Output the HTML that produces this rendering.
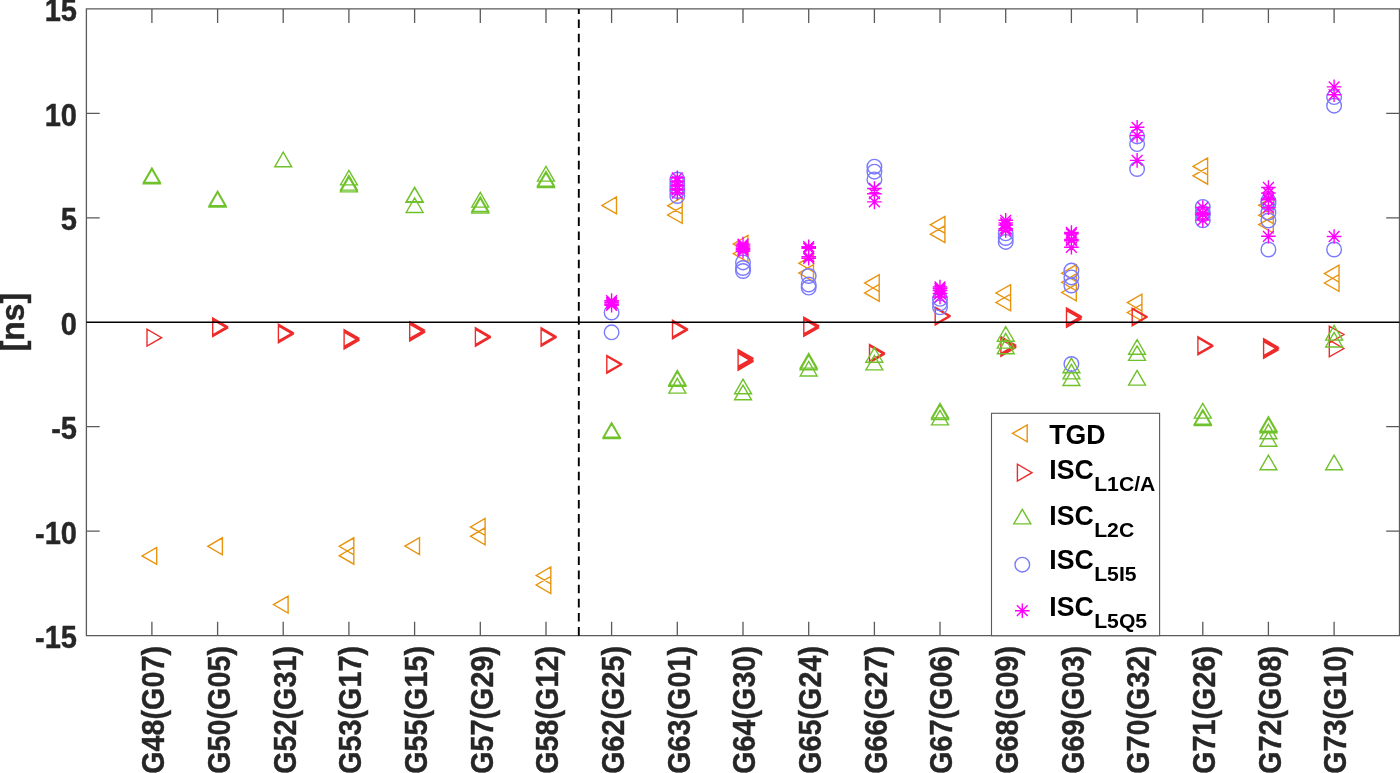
<!DOCTYPE html>
<html><head><meta charset="utf-8"><title>ISC / TGD</title>
<style>
html,body{margin:0;padding:0;background:#fff}
svg{display:block}
text{font-family:"Liberation Sans",Arial,Helvetica,sans-serif;font-weight:bold}
.t{font-size:31.1px;fill:#262626;stroke:#262626;stroke-width:0.4px}
.l{font-size:27.8px;fill:#000}
.s{font-size:20.35px;fill:#000}
</style></head>
<body>
<svg width="1400" height="773" viewBox="0 0 1400 773">
<rect width="1400" height="773" fill="#fff"/>
<g id="series">
<path d="M156.7 547.4L156.7 564.4L142.1 555.9ZM222.4 537.8L222.4 554.8L207.8 546.3ZM288.1 596.1L288.1 613.1L273.5 604.6ZM353.8 537.8L353.8 554.8L339.2 546.3ZM353.8 547.2L353.8 564.2L339.2 555.7ZM419.5 537.6L419.5 554.6L404.9 546.1ZM485.1 518.4L485.1 535.4L470.5 526.9ZM485.1 527.8L485.1 544.8L470.5 536.3ZM550.8 566.9L550.8 583.9L536.2 575.4ZM550.8 576.5L550.8 593.5L536.2 585.0ZM616.5 197.0L616.5 213.8L601.9 205.4ZM682.2 197.2L682.2 214.1L667.6 205.7ZM682.2 206.6L682.2 223.4L667.6 215.0ZM747.9 235.5L747.9 252.3L733.3 243.9ZM747.9 245.2L747.9 262.1L733.3 253.7ZM813.5 254.9L813.5 271.8L798.9 263.3ZM813.5 264.7L813.5 281.6L798.9 273.1ZM879.2 274.7L879.2 291.6L864.6 283.1ZM879.2 284.4L879.2 301.3L864.6 292.9ZM944.9 216.4L944.9 233.2L930.3 224.8ZM944.9 225.8L944.9 242.6L930.3 234.2ZM1010.6 284.6L1010.6 301.4L996.0 293.0ZM1010.6 294.1L1010.6 310.9L996.0 302.5ZM1076.3 264.8L1076.3 281.6L1061.7 273.2ZM1076.3 273.9L1076.3 290.8L1061.7 282.3ZM1076.3 284.1L1076.3 300.9L1061.7 292.5ZM1141.9 294.2L1141.9 311.1L1127.3 302.6ZM1141.9 304.1L1141.9 320.9L1127.3 312.5ZM1207.6 158.0L1207.6 174.8L1193.0 166.4ZM1207.6 167.4L1207.6 184.2L1193.0 175.8ZM1273.3 196.9L1273.3 213.8L1258.7 205.3ZM1273.3 206.8L1273.3 223.6L1258.7 215.2ZM1273.3 216.2L1273.3 233.0L1258.7 224.6ZM1339.0 265.2L1339.0 282.1L1324.4 273.6ZM1339.0 274.6L1339.0 291.4L1324.4 283.0Z" fill="none" stroke="#E8940F" stroke-width="1.4" stroke-linejoin="miter"/>
<path d="M147.0 329.2L147.0 346.1L161.6 337.7ZM212.7 317.9L212.7 334.8L227.3 326.4ZM212.7 318.9L212.7 335.8L227.3 327.3ZM212.7 319.8L212.7 336.6L227.3 328.2ZM278.4 324.1L278.4 340.9L293.0 332.5ZM278.4 324.9L278.4 341.8L293.0 333.4ZM278.4 325.9L278.4 342.8L293.0 334.3ZM344.1 329.6L344.1 346.4L358.7 338.0ZM344.1 330.9L344.1 347.8L358.7 339.3ZM344.1 332.2L344.1 349.1L358.7 340.6ZM409.7 321.6L409.7 338.4L424.3 330.0ZM409.7 322.9L409.7 339.8L424.3 331.3ZM409.7 324.2L409.7 341.1L424.3 332.6ZM475.4 327.8L475.4 344.6L490.0 336.2ZM475.4 328.6L475.4 345.4L490.0 337.0ZM475.4 329.4L475.4 346.2L490.0 337.8ZM541.1 327.8L541.1 344.6L555.7 336.2ZM541.1 328.6L541.1 345.4L555.7 337.0ZM541.1 329.4L541.1 346.2L555.7 337.8ZM606.8 355.4L606.8 372.2L621.4 363.8ZM606.8 356.4L606.8 373.2L621.4 364.8ZM672.5 320.2L672.5 337.1L687.1 328.7ZM672.5 321.1L672.5 337.9L687.1 329.5ZM672.5 321.9L672.5 338.8L687.1 330.3ZM738.1 349.6L738.1 366.4L752.7 358.0ZM738.1 350.6L738.1 367.4L752.7 359.0ZM738.1 351.6L738.1 368.4L752.7 360.0ZM738.1 352.6L738.1 369.4L752.7 361.0ZM738.1 353.4L738.1 370.2L752.7 361.8ZM803.8 317.1L803.8 333.9L818.4 325.5ZM803.8 318.2L803.8 335.1L818.4 326.7ZM803.8 319.4L803.8 336.3L818.4 327.9ZM869.5 344.4L869.5 361.2L884.1 352.8ZM869.5 345.2L869.5 362.1L884.1 353.6ZM869.5 345.9L869.5 362.8L884.1 354.4ZM935.2 307.1L935.2 323.9L949.8 315.5ZM935.2 308.2L935.2 325.1L949.8 316.7ZM1000.9 336.6L1000.9 353.4L1015.5 345.0ZM1000.9 337.9L1000.9 354.8L1015.5 346.4ZM1000.9 339.4L1000.9 356.2L1015.5 347.8ZM1066.5 307.9L1066.5 324.8L1081.1 316.3ZM1066.5 309.1L1066.5 325.9L1081.1 317.5ZM1066.5 310.6L1066.5 327.4L1081.1 319.0ZM1132.2 308.1L1132.2 324.9L1146.8 316.5ZM1132.2 308.9L1132.2 325.8L1146.8 317.3ZM1197.9 336.8L1197.9 353.6L1212.5 345.2ZM1197.9 337.9L1197.9 354.8L1212.5 346.4ZM1263.6 338.8L1263.6 355.6L1278.2 347.2ZM1263.6 340.2L1263.6 357.1L1278.2 348.6ZM1263.6 341.6L1263.6 358.4L1278.2 350.0ZM1329.3 326.1L1329.3 342.9L1343.9 334.5ZM1329.3 340.1L1329.3 356.9L1343.9 348.5Z" fill="none" stroke="#EE2A2A" stroke-width="1.4" stroke-linejoin="miter"/>
<path d="M143.4 182.5L160.3 182.5L151.9 167.9ZM143.4 183.9L160.3 183.9L151.9 169.3ZM209.1 205.7L226.0 205.7L217.6 191.1ZM209.1 207.1L226.0 207.1L217.6 192.5ZM274.8 166.8L291.7 166.8L283.2 152.2ZM340.5 184.9L357.4 184.9L348.9 170.3ZM340.5 190.1L357.4 190.1L348.9 175.5ZM340.5 191.9L357.4 191.9L348.9 177.3ZM406.2 201.7L423.1 201.7L414.6 187.1ZM406.2 202.2L423.1 202.2L414.6 187.6ZM406.2 212.5L423.1 212.5L414.6 197.9ZM471.8 207.1L488.7 207.1L480.3 192.5ZM471.8 211.5L488.7 211.5L480.3 196.9ZM471.8 213.1L488.7 213.1L480.3 198.5ZM537.5 181.1L554.4 181.1L546.0 166.5ZM537.5 186.1L554.4 186.1L546.0 171.5ZM537.5 187.5L554.4 187.5L546.0 172.9ZM603.2 437.2L620.1 437.2L611.6 422.6ZM603.2 438.5L620.1 438.5L611.6 423.9ZM668.9 385.1L685.8 385.1L677.3 370.5ZM668.9 386.3L685.8 386.3L677.3 371.7ZM668.9 393.1L685.8 393.1L677.3 378.5ZM734.6 393.8L751.5 393.8L743.0 379.2ZM734.6 399.8L751.5 399.8L743.0 385.2ZM800.2 368.1L817.1 368.1L808.7 353.5ZM800.2 369.8L817.1 369.8L808.7 355.2ZM800.2 376.0L817.1 376.0L808.7 361.4ZM865.9 362.2L882.8 362.2L874.4 347.6ZM865.9 369.9L882.8 369.9L874.4 355.3ZM931.6 417.9L948.5 417.9L940.0 403.3ZM931.6 419.5L948.5 419.5L940.0 404.9ZM931.6 424.9L948.5 424.9L940.0 410.3ZM997.3 341.2L1014.2 341.2L1005.7 326.6ZM997.3 348.1L1014.2 348.1L1005.7 333.5ZM997.3 353.8L1014.2 353.8L1005.7 339.2ZM1063.0 372.7L1079.9 372.7L1071.4 358.1ZM1063.0 378.9L1079.9 378.9L1071.4 364.3ZM1063.0 385.5L1079.9 385.5L1071.4 370.9ZM1128.6 354.2L1145.5 354.2L1137.1 339.6ZM1128.6 360.4L1145.5 360.4L1137.1 345.8ZM1128.6 385.1L1145.5 385.1L1137.1 370.5ZM1194.3 418.1L1211.2 418.1L1202.8 403.5ZM1194.3 424.2L1211.2 424.2L1202.8 409.6ZM1194.3 425.5L1211.2 425.5L1202.8 410.9ZM1260.0 431.2L1276.9 431.2L1268.4 416.6ZM1260.0 432.8L1276.9 432.8L1268.4 418.2ZM1260.0 438.8L1276.9 438.8L1268.4 424.2ZM1260.0 446.2L1276.9 446.2L1268.4 431.6ZM1260.0 469.8L1276.9 469.8L1268.4 455.2ZM1325.7 340.1L1342.6 340.1L1334.1 325.5ZM1325.7 347.0L1342.6 347.0L1334.1 332.4ZM1325.7 469.8L1342.6 469.8L1334.1 455.2Z" fill="none" stroke="#70C22C" stroke-width="1.4" stroke-linejoin="miter"/>
<g fill="none" stroke="#7A7AFF" stroke-width="1.4"><circle cx="611.6" cy="312.5" r="7.3"/><circle cx="611.6" cy="332.3" r="7.3"/><circle cx="677.3" cy="179.5" r="7.3"/><circle cx="677.3" cy="183.5" r="7.3"/><circle cx="677.3" cy="187.5" r="7.3"/><circle cx="677.3" cy="191.0" r="7.3"/><circle cx="677.3" cy="196.0" r="7.3"/><circle cx="743.0" cy="262.4" r="7.3"/><circle cx="743.0" cy="268.0" r="7.3"/><circle cx="743.0" cy="271.0" r="7.3"/><circle cx="808.7" cy="276.0" r="7.3"/><circle cx="808.7" cy="284.5" r="7.3"/><circle cx="808.7" cy="287.6" r="7.3"/><circle cx="874.4" cy="166.7" r="7.3"/><circle cx="874.4" cy="171.7" r="7.3"/><circle cx="874.4" cy="179.4" r="7.3"/><circle cx="940.0" cy="298.8" r="7.3"/><circle cx="940.0" cy="303.3" r="7.3"/><circle cx="940.0" cy="307.3" r="7.3"/><circle cx="1005.7" cy="233.3" r="7.3"/><circle cx="1005.7" cy="238.0" r="7.3"/><circle cx="1005.7" cy="241.9" r="7.3"/><circle cx="1071.4" cy="270.6" r="7.3"/><circle cx="1071.4" cy="277.4" r="7.3"/><circle cx="1071.4" cy="285.5" r="7.3"/><circle cx="1071.4" cy="364.0" r="7.3"/><circle cx="1137.1" cy="136.4" r="7.3"/><circle cx="1137.1" cy="144.1" r="7.3"/><circle cx="1137.1" cy="169.0" r="7.3"/><circle cx="1202.8" cy="206.9" r="7.3"/><circle cx="1202.8" cy="212.8" r="7.3"/><circle cx="1202.8" cy="214.5" r="7.3"/><circle cx="1202.8" cy="220.3" r="7.3"/><circle cx="1268.4" cy="200.8" r="7.3"/><circle cx="1268.4" cy="203.6" r="7.3"/><circle cx="1268.4" cy="212.7" r="7.3"/><circle cx="1268.4" cy="220.5" r="7.3"/><circle cx="1268.4" cy="249.5" r="7.3"/><circle cx="1334.1" cy="97.1" r="7.3"/><circle cx="1334.1" cy="105.7" r="7.3"/><circle cx="1334.1" cy="249.5" r="7.3"/></g>
<path d="M604.3 300.6H618.9M611.6 293.3V307.9M606.2 295.2L617.0 306.0M606.2 306.0L617.0 295.2M604.3 302.3H618.9M611.6 295.0V309.6M606.2 296.9L617.0 307.7M606.2 307.7L617.0 296.9M604.3 304.0H618.9M611.6 296.7V311.3M606.2 298.6L617.0 309.4M606.2 309.4L617.0 298.6M604.3 305.3H618.9M611.6 298.0V312.6M606.2 299.9L617.0 310.7M606.2 310.7L617.0 299.9M670.0 177.8H684.6M677.3 170.5V185.1M671.9 172.4L682.7 183.2M671.9 183.2L682.7 172.4M670.0 181.4H684.6M677.3 174.1V188.7M671.9 176.0L682.7 186.8M671.9 186.8L682.7 176.0M670.0 185.6H684.6M677.3 178.3V192.9M671.9 180.2L682.7 191.0M671.9 191.0L682.7 180.2M670.0 189.5H684.6M677.3 182.2V196.8M671.9 184.1L682.7 194.9M671.9 194.9L682.7 184.1M670.0 193.0H684.6M677.3 185.7V200.3M671.9 187.6L682.7 198.4M671.9 198.4L682.7 187.6M735.7 244.1H750.3M743.0 236.8V251.4M737.6 238.7L748.4 249.5M737.6 249.5L748.4 238.7M735.7 246.0H750.3M743.0 238.7V253.3M737.6 240.6L748.4 251.4M737.6 251.4L748.4 240.6M735.7 248.0H750.3M743.0 240.7V255.3M737.6 242.6L748.4 253.4M737.6 253.4L748.4 242.6M735.7 249.5H750.3M743.0 242.2V256.8M737.6 244.1L748.4 254.9M737.6 254.9L748.4 244.1M735.7 251.2H750.3M743.0 243.9V258.5M737.6 245.8L748.4 256.6M737.6 256.6L748.4 245.8M801.4 246.7H816.0M808.7 239.4V254.0M803.3 241.3L814.1 252.1M803.3 252.1L814.1 241.3M801.4 248.3H816.0M808.7 241.0V255.6M803.3 242.9L814.1 253.7M803.3 253.7L814.1 242.9M801.4 256.6H816.0M808.7 249.3V263.9M803.3 251.2L814.1 262.0M803.3 262.0L814.1 251.2M801.4 258.3H816.0M808.7 251.0V265.6M803.3 252.9L814.1 263.7M803.3 263.7L814.1 252.9M867.1 188.5H881.7M874.4 181.2V195.8M869.0 183.1L879.8 193.9M869.0 193.9L879.8 183.1M867.1 193.7H881.7M874.4 186.4V201.0M869.0 188.3L879.8 199.1M869.0 199.1L879.8 188.3M867.1 201.9H881.7M874.4 194.6V209.2M869.0 196.5L879.8 207.3M869.0 207.3L879.8 196.5M932.7 287.0H947.3M940.0 279.7V294.3M934.6 281.6L945.4 292.4M934.6 292.4L945.4 281.6M932.7 288.6H947.3M940.0 281.3V295.9M934.6 283.2L945.4 294.0M934.6 294.0L945.4 283.2M932.7 290.5H947.3M940.0 283.2V297.8M934.6 285.1L945.4 295.9M934.6 295.9L945.4 285.1M932.7 293.5H947.3M940.0 286.2V300.8M934.6 288.1L945.4 298.9M934.6 298.9L945.4 288.1M932.7 297.0H947.3M940.0 289.7V304.3M934.6 291.6L945.4 302.4M934.6 302.4L945.4 291.6M998.4 220.3H1013.0M1005.7 213.0V227.6M1000.3 214.9L1011.1 225.7M1000.3 225.7L1011.1 214.9M998.4 222.9H1013.0M1005.7 215.6V230.2M1000.3 217.5L1011.1 228.3M1000.3 228.3L1011.1 217.5M998.4 225.0H1013.0M1005.7 217.7V232.3M1000.3 219.6L1011.1 230.4M1000.3 230.4L1011.1 219.6M998.4 228.7H1013.0M1005.7 221.4V236.0M1000.3 223.3L1011.1 234.1M1000.3 234.1L1011.1 223.3M998.4 230.5H1013.0M1005.7 223.2V237.8M1000.3 225.1L1011.1 235.9M1000.3 235.9L1011.1 225.1M1064.1 232.5H1078.7M1071.4 225.2V239.8M1066.0 227.1L1076.8 237.9M1066.0 237.9L1076.8 227.1M1064.1 233.8H1078.7M1071.4 226.5V241.1M1066.0 228.4L1076.8 239.2M1066.0 239.2L1076.8 228.4M1064.1 239.4H1078.7M1071.4 232.1V246.7M1066.0 234.0L1076.8 244.8M1066.0 244.8L1076.8 234.0M1064.1 240.7H1078.7M1071.4 233.4V248.0M1066.0 235.3L1076.8 246.1M1066.0 246.1L1076.8 235.3M1064.1 247.3H1078.7M1071.4 240.0V254.6M1066.0 241.9L1076.8 252.7M1066.0 252.7L1076.8 241.9M1129.8 127.3H1144.4M1137.1 120.0V134.6M1131.7 121.9L1142.5 132.7M1131.7 132.7L1142.5 121.9M1129.8 135.5H1144.4M1137.1 128.2V142.8M1131.7 130.1L1142.5 140.9M1131.7 140.9L1142.5 130.1M1129.8 160.4H1144.4M1137.1 153.1V167.7M1131.7 155.0L1142.5 165.8M1131.7 165.8L1142.5 155.0M1195.5 207.5H1210.1M1202.8 200.2V214.8M1197.4 202.1L1208.2 212.9M1197.4 212.9L1208.2 202.1M1195.5 213.3H1210.1M1202.8 206.0V220.6M1197.4 207.9L1208.2 218.7M1197.4 218.7L1208.2 207.9M1195.5 214.6H1210.1M1202.8 207.3V221.9M1197.4 209.2L1208.2 220.0M1197.4 220.0L1208.2 209.2M1195.5 220.1H1210.1M1202.8 212.8V227.4M1197.4 214.7L1208.2 225.5M1197.4 225.5L1208.2 214.7M1261.1 187.5H1275.7M1268.4 180.2V194.8M1263.0 182.1L1273.8 192.9M1263.0 192.9L1273.8 182.1M1261.1 193.0H1275.7M1268.4 185.7V200.3M1263.0 187.6L1273.8 198.4M1263.0 198.4L1273.8 187.6M1261.1 199.0H1275.7M1268.4 191.7V206.3M1263.0 193.6L1273.8 204.4M1263.0 204.4L1273.8 193.6M1261.1 199.8H1275.7M1268.4 192.5V207.1M1263.0 194.4L1273.8 205.2M1263.0 205.2L1273.8 194.4M1261.1 207.7H1275.7M1268.4 200.4V215.0M1263.0 202.3L1273.8 213.1M1263.0 213.1L1273.8 202.3M1261.1 236.3H1275.7M1268.4 229.0V243.6M1263.0 230.9L1273.8 241.7M1263.0 241.7L1273.8 230.9M1326.8 86.9H1341.4M1334.1 79.6V94.2M1328.7 81.5L1339.5 92.3M1328.7 92.3L1339.5 81.5M1326.8 94.7H1341.4M1334.1 87.4V102.0M1328.7 89.3L1339.5 100.1M1328.7 100.1L1339.5 89.3M1326.8 236.5H1341.4M1334.1 229.2V243.8M1328.7 231.1L1339.5 241.9M1328.7 241.9L1339.5 231.1" fill="none" stroke="#FF00FF" stroke-width="1.4" stroke-linejoin="miter"/>
</g>
<path d="M86.4 8.9H1399.5V635.7H86.4ZM151.9 635.7v-14M151.9 8.9v14M217.6 635.7v-14M217.6 8.9v14M283.2 635.7v-14M283.2 8.9v14M348.9 635.7v-14M348.9 8.9v14M414.6 635.7v-14M414.6 8.9v14M480.3 635.7v-14M480.3 8.9v14M546.0 635.7v-14M546.0 8.9v14M611.6 635.7v-14M611.6 8.9v14M677.3 635.7v-14M677.3 8.9v14M743.0 635.7v-14M743.0 8.9v14M808.7 635.7v-14M808.7 8.9v14M874.4 635.7v-14M874.4 8.9v14M940.0 635.7v-14M940.0 8.9v14M1005.7 635.7v-14M1005.7 8.9v14M1071.4 635.7v-14M1071.4 8.9v14M1137.1 635.7v-14M1137.1 8.9v14M1202.8 635.7v-14M1202.8 8.9v14M1268.4 635.7v-14M1268.4 8.9v14M1334.1 635.7v-14M1334.1 8.9v14M86.4 113.3h13.3M1399.5 113.3h-13.3M86.4 217.8h13.3M1399.5 217.8h-13.3M86.4 426.6h13.3M1399.5 426.6h-13.3M86.4 531.1h13.3M1399.5 531.1h-13.3" fill="none" stroke="#5a5a5a" stroke-width="1.3"/>
<line x1="86.4" y1="322.2" x2="1399.5" y2="322.2" stroke="#000" stroke-width="1.6"/>
<line x1="578.8" y1="635.7" x2="578.8" y2="8.9" stroke="#000" stroke-width="1.9" stroke-dasharray="8.6 5.53"/>
<text class="t" transform="translate(77.0 21.3) scale(0.935 1)" text-anchor="end">15</text>
<text class="t" transform="translate(77.0 125.8) scale(0.935 1)" text-anchor="end">10</text>
<text class="t" transform="translate(77.0 230.2) scale(0.935 1)" text-anchor="end">5</text>
<text class="t" transform="translate(77.0 334.7) scale(0.935 1)" text-anchor="end">0</text>
<text class="t" transform="translate(77.0 439.1) scale(0.935 1)" text-anchor="end">-5</text>
<text class="t" transform="translate(77.0 543.6) scale(0.935 1)" text-anchor="end">-10</text>
<text class="t" transform="translate(77.0 648.0) scale(0.935 1)" text-anchor="end">-15</text>
<text transform="translate(24 322.1) rotate(-90) scale(0.965 1)" text-anchor="middle" style="font-size:33px;fill:#262626;stroke:#262626;stroke-width:0.4px">[ns]</text>
<text class="t" transform="translate(164.2 646.0) rotate(-90) scale(0.924 1)" text-anchor="end">G48(G07)</text>
<text class="t" transform="translate(229.9 646.0) rotate(-90) scale(0.924 1)" text-anchor="end">G50(G05)</text>
<text class="t" transform="translate(295.5 646.0) rotate(-90) scale(0.924 1)" text-anchor="end">G52(G31)</text>
<text class="t" transform="translate(361.2 646.0) rotate(-90) scale(0.924 1)" text-anchor="end">G53(G17)</text>
<text class="t" transform="translate(426.9 646.0) rotate(-90) scale(0.924 1)" text-anchor="end">G55(G15)</text>
<text class="t" transform="translate(492.6 646.0) rotate(-90) scale(0.924 1)" text-anchor="end">G57(G29)</text>
<text class="t" transform="translate(558.3 646.0) rotate(-90) scale(0.924 1)" text-anchor="end">G58(G12)</text>
<text class="t" transform="translate(623.9 646.0) rotate(-90) scale(0.924 1)" text-anchor="end">G62(G25)</text>
<text class="t" transform="translate(689.6 646.0) rotate(-90) scale(0.924 1)" text-anchor="end">G63(G01)</text>
<text class="t" transform="translate(755.3 646.0) rotate(-90) scale(0.924 1)" text-anchor="end">G64(G30)</text>
<text class="t" transform="translate(821.0 646.0) rotate(-90) scale(0.924 1)" text-anchor="end">G65(G24)</text>
<text class="t" transform="translate(886.7 646.0) rotate(-90) scale(0.924 1)" text-anchor="end">G66(G27)</text>
<text class="t" transform="translate(952.3 646.0) rotate(-90) scale(0.924 1)" text-anchor="end">G67(G06)</text>
<text class="t" transform="translate(1018.0 646.0) rotate(-90) scale(0.924 1)" text-anchor="end">G68(G09)</text>
<text class="t" transform="translate(1083.7 646.0) rotate(-90) scale(0.924 1)" text-anchor="end">G69(G03)</text>
<text class="t" transform="translate(1149.4 646.0) rotate(-90) scale(0.924 1)" text-anchor="end">G70(G32)</text>
<text class="t" transform="translate(1215.1 646.0) rotate(-90) scale(0.924 1)" text-anchor="end">G71(G26)</text>
<text class="t" transform="translate(1280.7 646.0) rotate(-90) scale(0.924 1)" text-anchor="end">G72(G08)</text>
<text class="t" transform="translate(1346.4 646.0) rotate(-90) scale(0.924 1)" text-anchor="end">G73(G10)</text>
<rect x="991.5" y="413.3" width="168.1" height="222.4" fill="#fff" stroke="#5a5a5a" stroke-width="1.1"/>
<path d="M1027.2 424.9L1027.2 441.8L1012.6 433.3Z" fill="none" stroke="#E8940F" stroke-width="1.4"/>
<path d="M1017.4 464.2L1017.4 481.1L1032.0 472.7Z" fill="none" stroke="#EE2A2A" stroke-width="1.4"/>
<path d="M1013.8 523.9L1030.8 523.9L1022.3 509.3Z" fill="none" stroke="#70C22C" stroke-width="1.4"/>
<circle cx="1022.3" cy="564.7" r="7.3" fill="none" stroke="#7A7AFF" stroke-width="1.4"/>
<path d="M1015.0 610.7H1029.6M1022.3 603.4V618.0M1016.9 605.3L1027.7 616.1M1016.9 616.1L1027.7 605.3" fill="none" stroke="#FF00FF" stroke-width="1.4"/>
<text class="l" transform="translate(1049.3 443.6) scale(0.96 1)">TGD</text>
<text class="l" transform="translate(1049.3 479.3) scale(0.96 1)">ISC</text><text class="s" transform="translate(1094.2 491.2) scale(1.04 1)">L1C/A</text>
<text class="l" transform="translate(1049.3 525.0) scale(0.96 1)">ISC</text><text class="s" transform="translate(1094.2 536.9) scale(1.04 1)">L2C</text>
<text class="l" transform="translate(1049.3 569.4) scale(0.96 1)">ISC</text><text class="s" transform="translate(1094.2 581.3) scale(1.04 1)">L5I5</text>
<text class="l" transform="translate(1049.3 615.8) scale(0.96 1)">ISC</text><text class="s" transform="translate(1094.2 627.7) scale(1.04 1)">L5Q5</text>
</svg>
</body></html>
